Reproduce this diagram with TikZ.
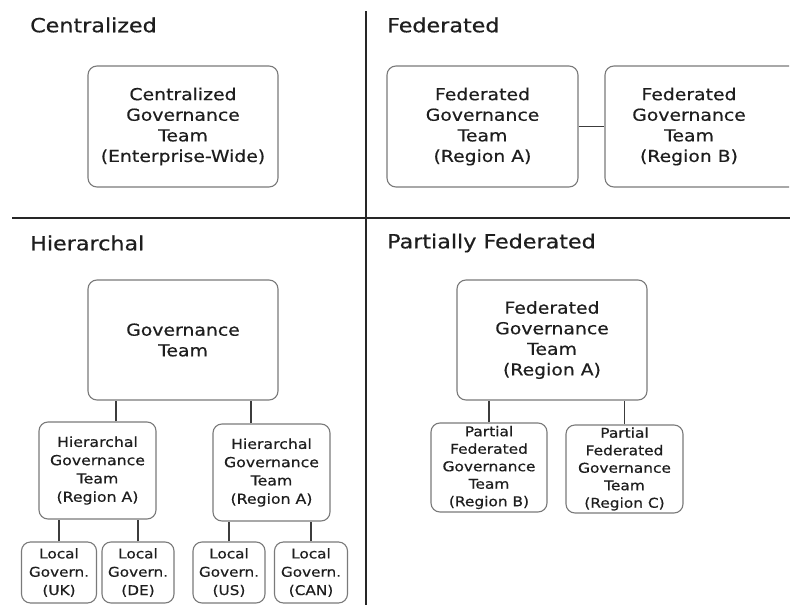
\documentclass[tikz,border=0pt]{standalone}
\usepackage{fontspec}
\setmainfont{DejaVu Sans}[FakeStretch=1.14, FakeBold=0.5]
\usepackage{xcolor}

\definecolor{boxline}{HTML}{7A7A7A}
\definecolor{linkline}{HTML}{3C3C3C}
\definecolor{inktext}{HTML}{1E1E1E}

\tikzset{
  govbox/.style={draw=boxline, line width=1.1pt, rounded corners=9pt,
    align=center, text=inktext, inner sep=0pt},
  bigtext/.style={font=\fontsize{16.5}{20.6}\selectfont},
  midtext/.style={font=\fontsize{13.8}{18.3}\selectfont},
  smalltext/.style={font=\fontsize{13.4}{18.3}\selectfont},
  parttext/.style={font=\fontsize{13.5}{17.5}\selectfont},
  heading/.style={anchor=west, inner sep=0pt, text=inktext,
    font=\fontsize{19.5}{22}\selectfont},
  link/.style={draw=linkline, line width=1.3pt},
  divider/.style={draw=black!85, line width=1.5pt}
}

\begin{document}
\begin{tikzpicture}[x=1pt,y=-1pt]
\useasboundingbox (0,0) rectangle (790,605);

% quadrant lines
\draw[divider] (366,11) -- (366,605);
\draw[divider] (12,218) -- (790,218);

% headings
\node[heading] (tcent) at (30,25) {Centralized};
\node[heading] (tfed) at (387,25) {Federated};
\node[heading] (thier) at (30,243) {Hierarchal};
\node[heading] (tpart) at (387,243) {Partially Federated};

% centralized
\node[govbox, bigtext, minimum width=190pt, minimum height=121pt] (cent) at (183,126.5)
  {Centralized\\Governance\\Team\\(Enterprise-Wide)};

% federated
\node[govbox, bigtext, minimum width=191pt, minimum height=121pt] (fedA) at (482.5,126.5)
  {Federated\\Governance\\Team\\(Region A)};
\begin{scope}
  \clip (0,0) rectangle (789,605);
  \node[govbox, bigtext, minimum width=220pt, minimum height=121pt] (fedB) at (715,126.5)
    {};
  \node[text=inktext, bigtext, align=center, inner sep=0pt] (fedBtext) at (689,126.5)
    {Federated\\Governance\\Team\\(Region B)};
\end{scope}
\draw[link] (fedA.east) -- (fedB.west);

% hierarchal
\node[govbox, bigtext, minimum width=190pt, minimum height=120pt] (gov) at (183,340)
  {Governance\\Team};
\node[govbox, midtext, minimum width=117pt, minimum height=97pt] (hierA) at (97.5,470.5)
  {Hierarchal\\Governance\\Team\\(Region A)};
\node[govbox, midtext, minimum width=117pt, minimum height=97pt] (hierB) at (271.5,472.5)
  {Hierarchal\\Governance\\Team\\(Region A)};
\draw[link] (hierA.north -| 116,0) -- (gov.south -| 116,0);
\draw[link] (hierB.north -| 251,0) -- (gov.south -| 251,0);

\node[govbox, smalltext, minimum width=75pt, minimum height=61pt] (uk) at (59,572.5)
  {Local\\Govern.\\(UK)};
\node[govbox, smalltext, minimum width=72pt, minimum height=61pt] (de) at (138,572.5)
  {Local\\Govern.\\(DE)};
\node[govbox, smalltext, minimum width=72pt, minimum height=61pt] (us) at (229,572.5)
  {Local\\Govern.\\(US)};
\node[govbox, smalltext, minimum width=73pt, minimum height=61pt] (can) at (311,572.5)
  {Local\\Govern.\\(CAN)};
\draw[link] (uk.north) -- (uk.north |- hierA.south);
\draw[link] (de.north) -- (de.north |- hierA.south);
\draw[link] (us.north) -- (us.north |- hierB.south);
\draw[link] (can.north) -- (can.north |- hierB.south);

% partially federated
\node[govbox, bigtext, minimum width=190pt, minimum height=120pt] (fedP) at (552,340)
  {Federated\\Governance\\Team\\(Region A)};
\node[govbox, parttext, minimum width=116pt, minimum height=89pt] (partB) at (489,467.5)
  {Partial\\Federated\\Governance\\Team\\(Region B)};
\node[govbox, parttext, minimum width=117pt, minimum height=88pt] (partC) at (624.5,469)
  {Partial\\Federated\\Governance\\Team\\(Region C)};
\draw[link] (partB.north) -- (partB.north |- fedP.south);
\draw[link] (partC.north) -- (partC.north |- fedP.south);
\end{tikzpicture}
\end{document}
